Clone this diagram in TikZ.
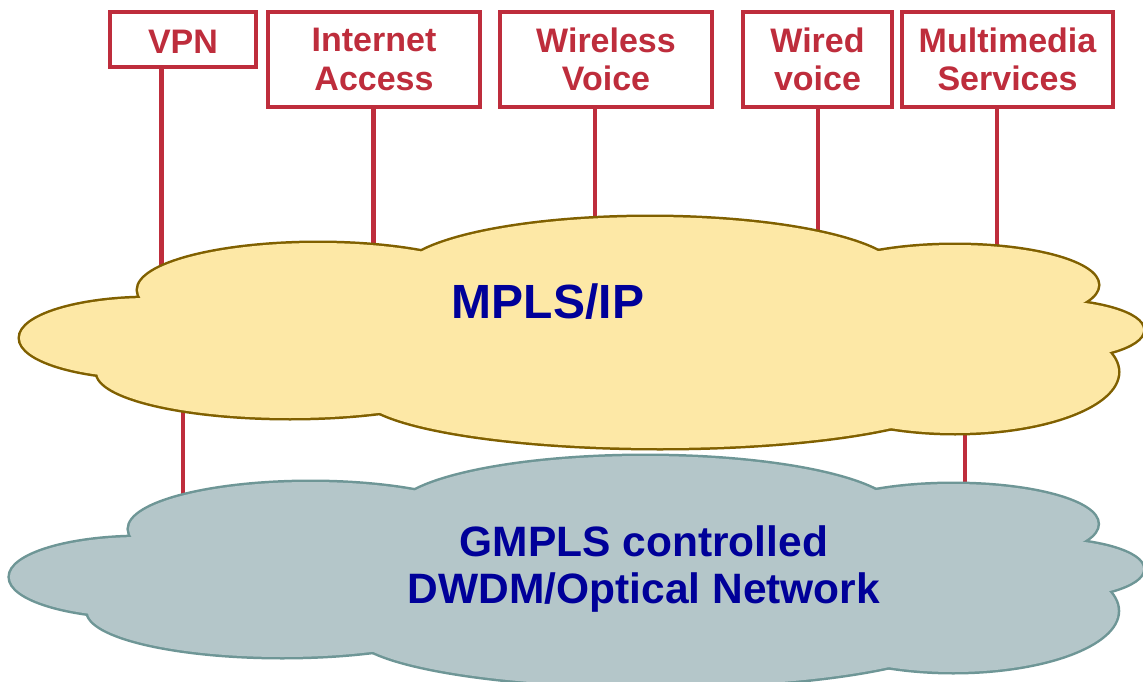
\documentclass[tikz,border=0pt]{standalone}
\usepackage{fontspec}
\setmainfont{Liberation Sans}
\definecolor{boxred}{RGB}{190,45,60}
\definecolor{mplsfill}{RGB}{253,232,166}
\definecolor{mplsline}{RGB}{128,96,0}
\definecolor{gmplsfill}{RGB}{180,198,201}
\definecolor{gmplsline}{RGB}{110,150,150}
\definecolor{textblue}{RGB}{0,0,153}
\newcommand{\cloudlobes}{318/290/180/47, 150/338/130/40, 290/372/193/46, 660/393/300/55, 955/372/163/61, 1040/330/103/30, 955/285/143/40, 650/275/250/58}
\newcommand{\drawcloud}[2]{%
  \foreach \cx/\cy/\rx/\ry in \cloudlobes {\draw[#1, line width=5pt] (\cx,\cy) ellipse[x radius=\rx pt, y radius=\ry pt];}
  \foreach \cx/\cy/\rx/\ry in \cloudlobes {\fill[#2] (\cx,\cy) ellipse[x radius=\rx pt, y radius=\ry pt];}
  \fill[#2] (600,330) ellipse[x radius=420pt, y radius=60pt];
}
\begin{document}
\begin{tikzpicture}[x=1pt,y=-1pt,
  svcbox/.style={draw=boxred, line width=4.5pt, inner sep=0pt, text=boxred,
    font=\fontsize{34}{38.5}\selectfont\bfseries, align=center, minimum height=95pt},
  link/.style={draw=boxred, line width=4.5pt},
  cloudtext/.style={text=textblue, inner sep=0pt}]
\useasboundingbox (0,0) rectangle (1143,682);
\clip (0,0) rectangle (1143,682);

% service boxes
\node[svcbox, minimum width=146pt, minimum height=55pt, text height=28pt, text depth=0pt] (vpn) at (183,39.5) {VPN};
\node[svcbox, minimum width=212pt] (inet) at (374,59.5) {Internet\\Access};
\node[svcbox, minimum width=212pt] (wless) at (606,59.5) {Wireless\\Voice};
\node[svcbox, minimum width=149pt] (wired) at (817.5,59.5) {Wired\\voice};
\node[svcbox, minimum width=211pt] (multi) at (1007.5,59.5) {Multimedia\\Services};

% connector end points (hidden inside the clouds)
\coordinate (eVPN) at (161.5,285);
\coordinate (eInet) at (373.5,265);
\coordinate (eWless) at (595,240);
\coordinate (eWired) at (818,250);
\coordinate (eMulti) at (997,265);
\coordinate (lA1) at (183,400);
\coordinate (lA2) at (183,512);
\coordinate (lB1) at (965,420);
\coordinate (lB2) at (965,505);

\draw[link] (vpn.south -| eVPN) -- (eVPN);
\draw[link] (inet.south -| eInet) -- (eInet);
\draw[link] (wless.south -| eWless) -- (eWless);
\draw[link] (wired.south -| eWired) -- (eWired);
\draw[link] (multi.south -| eMulti) -- (eMulti);
\draw[link] (lA1) -- (lA2);
\draw[link] (lB1) -- (lB2);

% GMPLS cloud
\begin{scope}[shift={(-10.3,239)}, xscale=1.009]
\drawcloud{gmplsline}{gmplsfill}
\end{scope}
% MPLS cloud
\drawcloud{mplsline}{mplsfill}

\node[cloudtext, font=\fontsize{48}{56}\selectfont\bfseries, anchor=base] (mpls) at (548,318) {MPLS/IP};
\node[cloudtext, font=\fontsize{42.5}{47}\selectfont\bfseries, align=center] (gmpls) at (644,569) {GMPLS controlled\\DWDM/Optical Network};
\end{tikzpicture}
\end{document}
